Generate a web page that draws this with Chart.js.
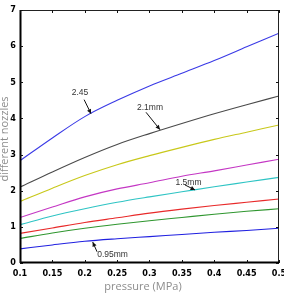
<!DOCTYPE html>
<html><head><meta charset="utf-8">
<script src="https://cdn.jsdelivr.net/npm/chart.js@4"></script>
<style>html,body{margin:0;padding:0;background:#fff}canvas{display:block}</style>
</head><body>
<canvas id="c" width="284" height="302"></canvas>
<script>
const pressure = [0.1, 0.15, 0.2, 0.25, 0.3, 0.35, 0.4, 0.45, 0.5];
const s245  = [2.83, 3.46, 4.05, 4.50, 4.90, 5.25, 5.60, 5.98, 6.36];
const s210  = [2.10, 2.52, 2.92, 3.28, 3.58, 3.86, 4.13, 4.38, 4.62];
const sYel  = [1.70, 2.07, 2.42, 2.72, 2.97, 3.20, 3.42, 3.62, 3.82];
const sMag  = [1.26, 1.55, 1.83, 2.05, 2.22, 2.40, 2.55, 2.71, 2.87];
const s150  = [1.06, 1.30, 1.50, 1.68, 1.83, 1.97, 2.11, 2.24, 2.37];
const sRed  = [0.82, 0.97, 1.12, 1.25, 1.38, 1.49, 1.59, 1.68, 1.77];
const sGrn  = [0.68, 0.83, 0.96, 1.07, 1.17, 1.26, 1.35, 1.43, 1.50];
const s095  = [0.39, 0.50, 0.60, 0.67, 0.73, 0.79, 0.85, 0.90, 0.96];
const xTickLabels = ['0.1','0.15','0.2','0.25','0.3','0.35','0.4','0.45','0.5'];
const yTickLabels = ['0','1','2','3','4','5','6','7'];
const seriesList = [s245, s210, sYel, sMag, s150, sRed, sGrn, s095];
const colors = ['#3a3ae6','#4a4a4a','#c8c81a','#c437c4','#2ec4c4','#e82a2a','#2f962f','#2020e0'];
// annotations: [text, textX, textY, arrowFromX, arrowFromY, tipX, tipY] in data units
const notes = [
  ['2.45', 0.1927, 4.70, 0.199, 4.52, 0.2097, 4.13],
  ['2.1mm', 0.3008, 4.29, 0.2946, 4.17, 0.3162, 3.69],
  ['1.5mm', 0.3602, 2.23, 0.3548, 2.16, 0.3703, 2.02],
  ['0.95mm', 0.2429, 0.22, 0.219, 0.31, 0.2123, 0.58]
];

const datasets = seriesList.map((s, i) => ({
  data: pressure.map((p, j) => ({x: p, y: s[j]})),
  borderColor: colors[i], borderWidth: 1.1, pointRadius: 0,
  cubicInterpolationMode: 'monotone', fill: false
}));

const tickFont = {family: "'Liberation Sans Narrow','DejaVu Sans Condensed','Liberation Sans',sans-serif", size: 9, weight: 'bold'};

const framePlugin = {
  id: 'frame',
  afterDraw(chart) {
    const ctx = chart.ctx, a = chart.chartArea;
    const xs = chart.scales.x, ys = chart.scales.y;
    ctx.save();
    // box
    ctx.strokeStyle = '#222'; ctx.lineWidth = 1;
    ctx.strokeRect(a.left + 0.5, a.top + 0.5, a.right - a.left - 1, a.bottom - a.top - 1);
    ctx.lineWidth = 2; ctx.strokeStyle = '#000';
    ctx.beginPath();
    ctx.moveTo(a.left + 0.5, a.top); ctx.lineTo(a.left + 0.5, a.bottom);
    ctx.moveTo(a.left, a.bottom - 0.5); ctx.lineTo(a.right, a.bottom - 0.5);
    ctx.stroke();
    // inward ticks
    ctx.lineWidth = 1; ctx.strokeStyle = '#111';
    ctx.beginPath();
    xs.ticks.forEach(t => {
      const px = Math.round(xs.getPixelForValue(t.value)) + 0.5;
      ctx.moveTo(px, a.bottom); ctx.lineTo(px, a.bottom - 3);
      ctx.moveTo(px, a.top); ctx.lineTo(px, a.top + 3);
    });
    ys.ticks.forEach(t => {
      const py = Math.round(ys.getPixelForValue(t.value)) + 0.5;
      ctx.moveTo(a.left, py); ctx.lineTo(a.left + 3, py);
      ctx.moveTo(a.right, py); ctx.lineTo(a.right - 3, py);
    });
    ctx.stroke();
    // axis titles
    ctx.fillStyle = '#8c8c8c';
    ctx.font = "11px 'Open Sans', sans-serif";
    ctx.textAlign = 'center'; ctx.textBaseline = 'middle';
    ctx.fillText('pressure (MPa)', 143, 287);
    ctx.save();
    ctx.translate(5, 139); ctx.rotate(-Math.PI / 2);
    ctx.fillText('different nozzles', 0, 0);
    ctx.restore();
    // annotations
    ctx.font = "8.5px 'Liberation Sans', Arial, sans-serif";
    ctx.fillStyle = '#333'; ctx.strokeStyle = '#111'; ctx.lineWidth = 1;
    notes.forEach(n => {
      const tx = xs.getPixelForValue(n[1]), ty = ys.getPixelForValue(n[2]);
      ctx.fillText(n[0], tx, ty);
      const fx = xs.getPixelForValue(n[3]), fy = ys.getPixelForValue(n[4]);
      const px = xs.getPixelForValue(n[5]), py = ys.getPixelForValue(n[6]);
      ctx.beginPath(); ctx.moveTo(fx, fy); ctx.lineTo(px, py); ctx.stroke();
      const ang = Math.atan2(py - fy, px - fx), L = 5, W = 0.45;
      ctx.beginPath();
      ctx.moveTo(px, py);
      ctx.lineTo(px - L * Math.cos(ang - W), py - L * Math.sin(ang - W));
      ctx.lineTo(px - L * Math.cos(ang + W), py - L * Math.sin(ang + W));
      ctx.closePath(); ctx.fillStyle = '#111'; ctx.fill();
      ctx.fillStyle = '#333';
    });
    ctx.restore();
  }
};

new Chart(document.getElementById('c'), {
  type: 'line',
  data: {datasets},
  options: {
    responsive: false, animation: false,
    layout: {padding: {top: 10, right: 5, left: 0, bottom: 0}},
    plugins: {legend: {display: false}, tooltip: {enabled: false}},
    scales: {
      x: {
        type: 'linear', min: 0.1, max: 0.5,
        afterFit(s) { s.height = 39; s.paddingLeft = 0; s.paddingRight = 0; },
        grid: {display: false, drawTicks: false}, border: {display: false},
        ticks: {stepSize: 0.05, color: '#000', font: tickFont, padding: 5, maxRotation: 0, autoSkip: false,
          callback: (v, i) => xTickLabels[i]}
      },
      y: {
        min: 0, max: 7,
        afterFit(s) { s.width = 20; s.paddingTop = 0; s.paddingBottom = 0; },
        grid: {display: false, drawTicks: false}, border: {display: false},
        ticks: {stepSize: 1, color: '#000', font: tickFont, padding: 4,
          callback: (v, i) => yTickLabels[i]}
      }
    }
  },
  plugins: [framePlugin]
});
</script>
</body></html>
